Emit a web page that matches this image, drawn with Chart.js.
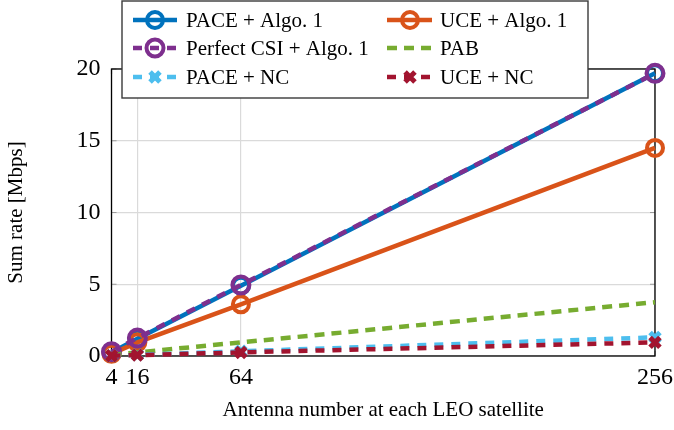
<!DOCTYPE html>
<html>
<head>
<meta charset="utf-8">
<script src="https://cdn.jsdelivr.net/npm/chart.js@4.4.1/dist/chart.umd.min.js"></script>
<style>
  html, body { margin: 0; padding: 0; background: #fff; }
  #wrap { width: 674px; height: 430px; }
</style>
</head>
<body>
<div id="wrap"><canvas id="chart" width="674" height="430"></canvas></div>
<script>
// antenna numbers (x) and sum rates in Mbps
const antennas = [4, 16, 64, 256];
const paceAlgo = [0.25, 1.2, 4.9, 19.7];
const perfectAlgo = [0.3, 1.25, 4.95, 19.7];
const uceAlgo = [0.15, 0.95, 3.6, 14.5];
const pab = [0.06, 0.25, 0.95, 3.75];
const paceNC = [0.02, 0.08, 0.33, 1.3];
const uceNC = [0.015, 0.06, 0.25, 0.95];
const xTicks = [4, 16, 64, 256];
const yTicks = [0, 5, 10, 15, 20];

const FONT = "'Liberation Serif', 'Times New Roman', serif";

const pts = (ys) => antennas.map((x, i) => ({ x, y: ys[i] }));

const datasets = [
  { label: "PACE + Algo. 1", data: pts(paceAlgo), borderColor: "#0072BD",
    borderWidth: 4.5, pointStyle: "circle", pointRadius: 8, pointBorderWidth: 4 },
  { label: "UCE + Algo. 1", data: pts(uceAlgo), borderColor: "#D95319",
    borderWidth: 4.5, pointStyle: "circle", pointRadius: 8, pointBorderWidth: 4 },
  { label: "Perfect CSI + Algo. 1", data: pts(perfectAlgo), borderColor: "#7E2F8E",
    borderWidth: 4.5, borderDash: [9, 8], pointStyle: "circle", pointRadius: 8.5, pointBorderWidth: 4 },
  { label: "PAB", data: pts(pab), borderColor: "#77AC30",
    borderWidth: 4.5, borderDash: [10, 7], pointRadius: 0 },
  { label: "PACE + NC", data: pts(paceNC), borderColor: "#4DBEEE",
    borderWidth: 4.5, borderDash: [9, 8], pointStyle: "crossRot", pointRadius: 7, pointBorderWidth: 5 },
  { label: "UCE + NC", data: pts(uceNC), borderColor: "#A2142F",
    borderWidth: 4.5, borderDash: [9, 8], pointStyle: "crossRot", pointRadius: 7, pointBorderWidth: 5 },
];
datasets.forEach((d, i) => {
  d.backgroundColor = "rgba(0,0,0,0)";
  d.pointBackgroundColor = "rgba(0,0,0,0)";
  d.pointBorderColor = d.borderColor;
  d.fill = false;
  d.tension = 0;
  d.clip = false;
  d.order = datasets.length - i; // later series drawn on top
});

// box around the plot area plus inward tick marks, like pgfplots
const frame = {
  id: "frame",
  beforeDatasetsDraw(chart) {
    const { ctx, chartArea: a, scales } = chart;
    ctx.save();
    ctx.strokeStyle = "#9a9a9a";
    ctx.lineWidth = 1.2;
    ctx.beginPath();
    xTicks.forEach((v) => {
      const px = scales.x.getPixelForValue(v);
      ctx.moveTo(px, a.bottom); ctx.lineTo(px, a.bottom - 5);
      ctx.moveTo(px, a.top); ctx.lineTo(px, a.top + 5);
    });
    yTicks.forEach((v) => {
      const py = scales.y.getPixelForValue(v);
      ctx.moveTo(a.left, py); ctx.lineTo(a.left + 5, py);
      ctx.moveTo(a.right, py); ctx.lineTo(a.right - 5, py);
    });
    ctx.stroke();
    ctx.strokeStyle = "#000";
    ctx.lineWidth = 1.3;
    ctx.strokeRect(a.left, a.top, a.right - a.left, a.bottom - a.top);
    ctx.restore();
  },
};

// two-column legend box overlapping the top of the plot
const boxLegend = {
  id: "boxLegend",
  afterDraw(chart) {
    const { ctx } = chart;
    const box = { x: 122, y: 1, w: 466, h: 97 };
    const cols = [{ l0: 133, l1: 177, m: 155, t: 186 }, { l0: 387, l1: 432, m: 410, t: 440 }];
    const rows = [20, 48, 77];
    ctx.save();
    ctx.fillStyle = "#fff";
    ctx.fillRect(box.x, box.y, box.w, box.h);
    ctx.strokeStyle = "#3a3a3a";
    ctx.lineWidth = 1.4;
    ctx.strokeRect(box.x, box.y, box.w, box.h);
    chart.data.datasets.forEach((ds, i) => {
      const c = cols[i % 2];
      const y = rows[Math.floor(i / 2)];
      ctx.save();
      ctx.strokeStyle = ds.borderColor;
      ctx.lineWidth = ds.borderWidth;
      ctx.setLineDash(ds.borderDash || []);
      ctx.beginPath();
      ctx.moveTo(c.l0, y);
      ctx.lineTo(c.l1, y);
      ctx.stroke();
      ctx.setLineDash([]);
      if (ds.pointRadius > 0) {
        ctx.fillStyle = "rgba(0,0,0,0)";
        ctx.lineWidth = ds.pointBorderWidth;
        Chart.helpers.drawPoint(ctx, {
          pointStyle: ds.pointStyle, radius: ds.pointRadius, rotation: 0,
          borderWidth: ds.pointBorderWidth,
        }, c.m, y);
      }
      ctx.restore();
      ctx.fillStyle = "#000";
      ctx.font = "21px " + FONT;
      ctx.textBaseline = "middle";
      ctx.textAlign = "left";
      ctx.fillText(ds.label, c.t, y + 1);
    });
    ctx.restore();
  },
};

const ctx = document.getElementById("chart").getContext("2d");
new Chart(ctx, {
  type: "line",
  data: { datasets },
  plugins: [frame, boxLegend],
  options: {
    responsive: false,
    animation: false,
    events: [],
    layout: { padding: { top: 69, right: 19, left: 0, bottom: 0 } },
    plugins: { legend: { display: false }, tooltip: { enabled: false } },
    scales: {
      x: {
        type: "linear",
        min: 4,
        max: 256,
        afterBuildTicks: (scale) => { scale.ticks = xTicks.map((v) => ({ value: v })); },
        afterFit: (scale) => {
          scale.height = 74;
          scale.paddingLeft = 0;
          scale.paddingRight = 0;
        },
        grid: { color: "#dadada", lineWidth: 1.2, drawTicks: false },
        border: { display: false },
        ticks: { color: "#000", font: { family: FONT, size: 24 }, padding: 7, maxRotation: 0, autoSkip: false },
        title: {
          display: true, text: "Antenna number at each LEO satellite", color: "#000",
          font: { family: FONT, size: 21 }, padding: { top: 0, bottom: 7 },
        },
      },
      y: {
        min: 0,
        max: 20,
        afterBuildTicks: (scale) => { scale.ticks = yTicks.map((v) => ({ value: v })); },
        afterFit: (scale) => {
          scale.width = 111.5;
          scale.paddingTop = 0;
          scale.paddingBottom = 0;
        },
        grid: { color: "#dadada", lineWidth: 1.2, drawTicks: false },
        border: { display: false },
        ticks: { color: "#000", font: { family: FONT, size: 24 }, padding: 11 },
        title: {
          display: true, text: "Sum rate [Mbps]", color: "#000",
          font: { family: FONT, size: 21 }, padding: { top: 4, bottom: 0 },
        },
      },
    },
  },
});
</script>
</body>
</html>
